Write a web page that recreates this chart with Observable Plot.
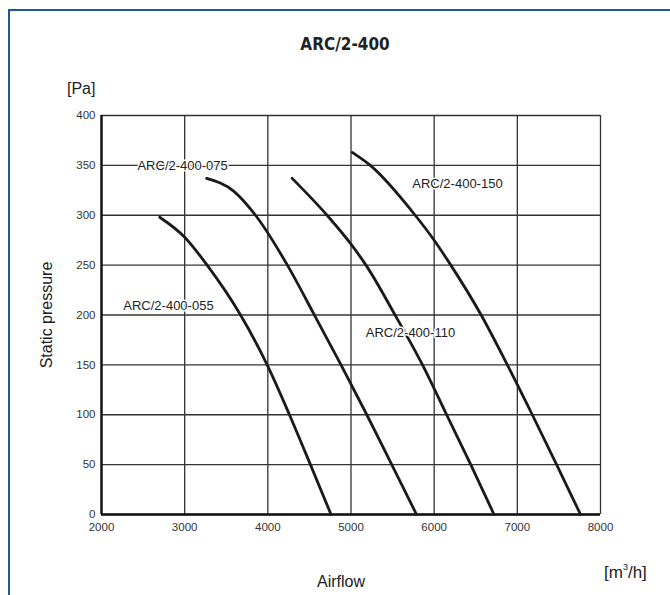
<!DOCTYPE html>
<html>
<head>
<meta charset="utf-8">
<script src="https://cdn.jsdelivr.net/npm/d3@7"></script>
<script src="https://cdn.jsdelivr.net/npm/@observablehq/plot@0.6"></script>
<style>
  html, body { margin: 0; padding: 0; background: #fff; }
  #wrap { position: relative; width: 670px; height: 595px; overflow: hidden; font-family: "Liberation Sans", Arial, sans-serif; }
  #frame { position: absolute; left: 8px; top: 9px; width: 700px; height: 700px; border-top: 2px solid #1f57a0; border-left: 2px solid #1f57a0; }
  #chart { position: absolute; left: 0; top: 0; }
  .t { position: absolute; color: #222; white-space: nowrap; }
  #title { left: 0; width: 690px; top: 34px; text-align: center; font-family: "DejaVu Sans", sans-serif; font-stretch: condensed; font-weight: bold; font-size: 17px; color: #222; }
  #pa { left: 67px; top: 80px; font-size: 16px; }
  #ylab { left: 47px; top: 315px; font-size: 16px; transform: translate(-50%, -50%) rotate(-90deg); }
  #xlab { left: 341px; top: 582px; font-size: 16px; transform: translate(-50%, -50%); }
  #unit { left: 604px; top: 562px; font-size: 17px; }
  #unit sup { font-size: 9px; vertical-align: 8px; }
</style>
</head>
<body>
<div id="wrap">
  <div id="frame"></div>
  <div id="chart"></div>
  <div class="t" id="title">ARC/2-400</div>
  <div class="t" id="pa">[Pa]</div>
  <div class="t" id="ylab">Static pressure</div>
  <div class="t" id="xlab">Airflow</div>
  <div class="t" id="unit">[m<sup>3</sup>/h]</div>
</div>
<script>
// Series data (airflow m3/h, static pressure Pa)
const s055x = [2700, 3000, 3270, 3672, 3992, 4260, 4512, 4760];
const s055y = [298, 278, 250, 200, 150, 100, 50, 0];
const s075x = [3264, 3592, 3852, 4235, 4560, 4880, 5190, 5490, 5788];
const s075y = [337, 324, 300, 250, 200, 150, 100, 50, 0];
const s110x = [4292, 4712, 5000, 5180, 5530, 5860, 6150, 6440, 6720];
const s110y = [337, 300, 271, 250, 200, 150, 100, 50, 0];
const s150x = [5015, 5232, 5772, 6000, 6200, 6565, 6880, 7180, 7472, 7760];
const s150y = [363, 350, 300, 275, 250, 200, 150, 100, 50, 0];

const seriesNames = ["ARC/2-400-055", "ARC/2-400-075", "ARC/2-400-110", "ARC/2-400-150"];
const labelX = [2805, 2975, 5715, 6280];
const labelY = [209, 350, 182, 332];

const xTicks = [2000, 3000, 4000, 5000, 6000, 7000, 8000];
const yTicks = [0, 50, 100, 150, 200, 250, 300, 350, 400];

const toRows = (name, xs, ys) => xs.map((x, i) => ({series: name, flow: x, pressure: ys[i]}));
const rows = [
  ...toRows(seriesNames[0], s055x, s055y),
  ...toRows(seriesNames[1], s075x, s075y),
  ...toRows(seriesNames[2], s110x, s110y),
  ...toRows(seriesNames[3], s150x, s150y)
];
const labels = seriesNames.map((n, i) => ({name: n, x: labelX[i], y: labelY[i]}));

const chart = Plot.plot({
  width: 670,
  height: 595,
  marginLeft: 101,
  marginRight: 70,
  marginTop: 115,
  marginBottom: 81,
  style: {fontFamily: "'Liberation Sans', Arial, sans-serif", background: "transparent", color: "#222"},
  x: {domain: [2000, 8000], ticks: xTicks, label: null},
  y: {domain: [0, 400], ticks: yTicks, label: null},
  marks: [
    Plot.gridX(xTicks, {stroke: "#333", strokeOpacity: 1, strokeWidth: 1.3}),
    Plot.gridY(yTicks, {stroke: "#333", strokeOpacity: 1, strokeWidth: 1.3}),
    Plot.axisX(xTicks, {tickSize: 0, tickPadding: 8, fontSize: 11.5, fill: "#333", label: null, tickFormat: d => String(d)}),
    Plot.axisY(yTicks, {tickSize: 0, tickPadding: 6, fontSize: 11.5, fill: "#333", label: null, tickFormat: d => String(d)}),
    Plot.ruleX([2000], {stroke: "#111", strokeWidth: 2.4}),
    Plot.ruleY([0], {stroke: "#111", strokeWidth: 2.4}),
    Plot.line(rows, {x: "flow", y: "pressure", z: "series", curve: "monotone-x", stroke: "#1a1a1a", strokeWidth: 2.8}),
    Plot.text(labels, {x: "x", y: "y", text: "name", fontSize: 13, fill: "#222", stroke: "white", strokeWidth: 3, paintOrder: "stroke"})
  ]
});
document.getElementById("chart").appendChild(chart);
</script>
</body>
</html>
